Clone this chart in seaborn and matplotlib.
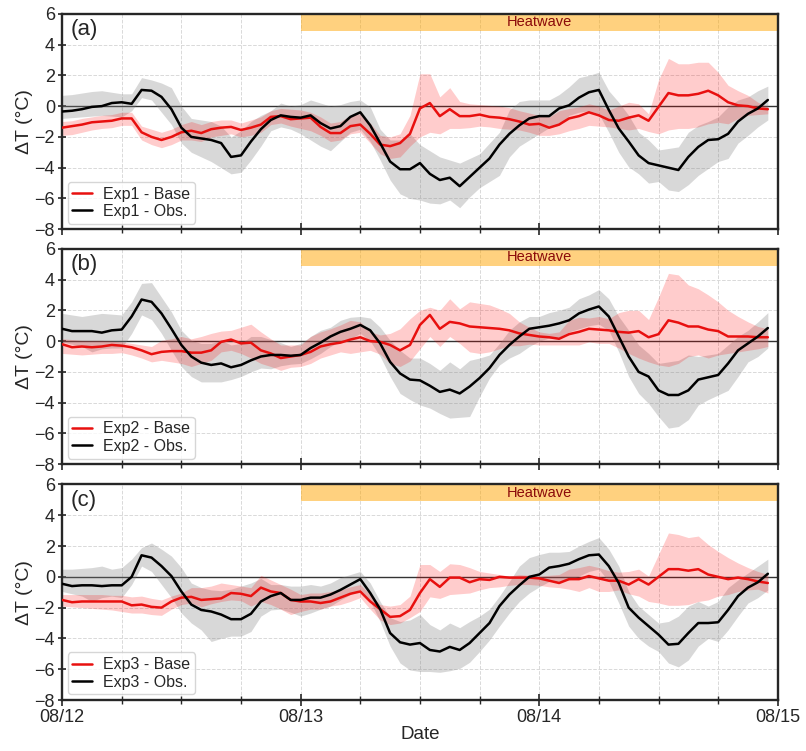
import matplotlib
matplotlib.use("Agg")
import matplotlib.pyplot as plt
import matplotlib.dates as mdates
import numpy as np
import pandas as pd
import seaborn as sns

# hourly time axis, 08/12 00:00 .. 08/14 23:00
times = pd.date_range("2023-08-12 00:00", periods=72, freq="h")
hw_start = pd.Timestamp("2023-08-13")
hw_end = pd.Timestamp("2023-08-15")

# ---- panel (a) ----
base_a = [-1.4, -1.3, -1.2, -1.05, -1.0, -0.95, -0.8, -0.8, -1.7, -2.0, -2.2, -2.0,
          -1.7, -1.6, -1.75, -1.5, -1.4, -1.35, -1.55, -1.4, -1.2, -0.7, -0.65, -0.85,
          -0.8, -0.75, -1.35, -1.75, -1.75, -1.3, -1.2, -1.8, -2.5, -2.6, -2.4, -1.8,
          -0.15, 0.2, -0.65, -0.2, -0.65, -0.65, -0.55, -0.7, -0.75, -0.85, -1.0, -1.2,
          -1.15, -1.4, -1.2, -0.8, -0.65, -0.4, -0.6, -0.9, -0.95, -0.75, -0.6, -0.95,
          -0.05, 0.85, 0.7, 0.7, 0.8, 1.0, 0.7, 0.25, 0.05, 0.0, -0.15, -0.2]
base_a_hi = [-1.0, -0.95, -0.8, -0.7, -0.6, -0.55, -0.4, -0.4, -1.3, -1.5, -1.7, -1.5,
             -1.2, -1.0, -1.2, -1.0, -0.9, -0.9, -1.1, -0.9, -0.7, -0.3, -0.15, -0.2,
             -0.25, -0.4, -0.7, -1.1, -1.0, -0.6, -0.5, -1.1, -1.9, -2.0, -1.8, -0.6,
             2.1, 2.1, 0.6, 1.2, 0.3, 0.15, 0.1, 0.05, 0.0, -0.1, -0.3, -0.45,
             -0.6, -0.7, -0.3, -0.15, -0.05, 0.15, 0.0, -0.25, 0.0, 0.25, 0.15, -0.5,
             1.7, 3.1, 2.75, 2.75, 2.85, 2.85, 2.2, 1.35, 1.0, 0.7, 0.25, -0.05]
base_a_lo = [-1.9, -1.85, -1.7, -1.55, -1.45, -1.4, -1.25, -1.25, -2.2, -2.5, -2.7, -2.5,
             -2.2, -2.2, -2.3, -2.0, -1.9, -1.8, -2.0, -1.9, -1.7, -1.2, -1.1, -1.3,
             -1.45, -1.6, -1.9, -2.3, -2.2, -1.8, -1.7, -2.4, -3.1, -3.4, -3.3, -2.6,
             -2.0, -1.7, -1.8, -1.45, -1.45, -1.4, -1.3, -1.35, -1.45, -1.5, -1.55, -1.7,
             -1.9, -1.9, -1.8, -1.6, -1.45, -1.25, -1.3, -1.35, -1.45, -1.55, -1.45, -1.65,
             -1.8, -1.55, -1.45, -1.45, -1.35, -1.15, -1.05, -1.15, -0.8, -0.6, -0.55, -0.5]
obs_a = [-0.35, -0.3, -0.2, -0.05, 0.0, 0.2, 0.25, 0.15, 1.05, 1.0, 0.6, -0.2,
         -1.4, -2.0, -2.1, -2.2, -2.4, -3.3, -3.2, -2.3, -1.5, -0.9, -0.6, -0.7,
         -0.75, -0.6, -1.1, -1.45, -1.3, -0.7, -0.4, -1.25, -2.4, -3.6, -4.1, -4.1,
         -3.7, -4.4, -4.8, -4.65, -5.2, -4.6, -4.0, -3.4, -2.5, -1.8, -1.25, -0.8,
         -0.65, -0.65, -0.15, 0.05, 0.55, 0.9, 1.05, -0.25, -1.45, -2.3, -3.2, -3.7,
         -3.85, -4.0, -4.15, -3.3, -2.65, -2.2, -2.15, -1.8, -1.0, -0.5, -0.15, 0.4]
obs_a_hi = [0.7, 0.75, 0.85, 0.95, 1.0, 0.9, 0.8, 0.8, 1.85, 1.7, 1.5, 1.2,
            0.0, -0.8, -0.9, -1.0, -1.3, -2.0, -1.6, -1.0, -0.6, -0.3, 0.2, 0.0,
            0.1, 0.4, 0.2, 0.0, 0.1, 0.3, 0.4, -0.05, -1.5, -2.2, -2.2, -1.8,
            -2.5, -2.9, -3.3, -3.5, -3.7, -3.4, -3.1, -2.4, -1.7, -0.25, 0.3, 0.4,
            0.4, 0.4, 0.75, 1.25, 1.85, 2.0, 2.2, 1.0, 0.25, -0.6, -1.7, -2.2,
            -2.85, -2.75, -2.65, -1.7, -1.25, -1.0, -0.7, -0.05, 0.4, 0.6, 1.0, 1.3]
obs_a_lo = [-0.8, -0.75, -0.7, -0.65, -0.6, -0.65, -0.7, -0.3, 0.55, 0.4, -0.4, -1.2,
            -2.4, -3.0, -3.3, -3.6, -4.0, -4.4, -4.3, -3.5, -2.6, -1.6, -1.35, -1.5,
            -1.8, -2.2, -2.6, -2.9, -2.3, -1.7, -1.5, -2.3, -3.5, -4.8, -5.7, -6.0,
            -6.1, -6.3, -6.35, -6.1, -6.6, -5.9, -5.3, -4.9, -4.5, -3.3, -2.6, -2.2,
            -1.8, -1.4, -1.25, -0.6, -0.4, -0.3, -0.5, -1.7, -3.0, -3.95, -4.4, -5.0,
            -4.9, -5.45, -5.55, -5.1, -4.5, -4.05, -3.6, -3.4, -2.4, -1.9, -1.35, -0.9]

# ---- panel (b) ----
base_b = [-0.2, -0.4, -0.35, -0.4, -0.35, -0.25, -0.3, -0.4, -0.6, -0.85, -0.7, -0.65,
          -0.65, -0.75, -0.75, -0.6, -0.05, 0.1, -0.15, -0.1, -0.6, -0.8, -1.1, -1.0,
          -0.9, -0.7, -0.35, -0.2, -0.1, 0.1, 0.25, 0.0, -0.05, -0.25, -0.6, -0.25,
          1.05, 1.7, 0.8, 1.25, 1.15, 0.95, 0.9, 0.85, 0.8, 0.7, 0.5, 0.4,
          0.3, 0.25, 0.15, 0.45, 0.6, 0.8, 0.75, 0.7, 0.6, 0.55, 0.65, 0.25,
          0.45, 1.35, 1.2, 0.95, 0.95, 0.75, 0.65, 0.3, 0.3, 0.3, 0.25, 0.25]
base_b_hi = [0.15, 0.1, 0.05, 0.05, 0.05, 0.0, -0.05, -0.15, -0.25, -0.35, 0.05, 0.15,
             0.3, 0.15, 0.3, 0.5, 0.65, 0.7, 0.9, 1.1, 0.6, 0.15, -0.25, -0.25,
             -0.25, 0.3, 0.6, 0.8, 1.05, 1.35, 1.25, 0.6, 0.4, 0.5, 0.8, 1.45,
             2.0, 2.2, 2.0, 2.75, 2.1, 2.55, 2.45, 2.35, 2.1, 1.8, 1.25, 0.9,
             0.6, 0.5, 0.6, 1.35, 1.55, 1.5, 1.6, 1.45, 1.85, 2.0, 2.0, 1.4,
             2.85, 4.4, 4.3, 3.65, 3.4, 3.0, 2.55, 2.0, 1.6, 1.25, 0.95, 0.8]
base_b_lo = [-0.8, -0.85, -0.9, -0.85, -0.8, -0.8, -0.75, -0.9, -1.1, -1.35, -1.25, -1.35,
             -1.45, -1.65, -1.45, -1.25, -0.7, -0.6, -0.8, -1.1, -1.45, -1.65, -1.9, -1.7,
             -1.65, -1.45, -1.1, -0.9, -0.7, -0.8, -0.7, -0.6, -0.85, -1.45, -1.65, -1.3,
             -0.5, 0.3, -0.35, 0.3, -0.15, -0.7, -0.8, -0.7, -0.5, -0.3, -0.3, -0.2,
             -0.25, -0.25, -0.25, -0.25, -0.25, -0.05, -0.15, -0.15, -0.45, -0.8, -1.1, -1.35,
             -1.55, -1.65, -1.45, -1.0, -0.9, -1.1, -0.9, -0.8, -0.7, -0.6, -0.5, -0.35]
obs_b = [0.8, 0.65, 0.65, 0.65, 0.55, 0.7, 0.75, 1.6, 2.7, 2.55, 1.8, 0.8,
         -0.25, -1.0, -1.4, -1.55, -1.45, -1.7, -1.55, -1.25, -1.0, -0.9, -0.9, -0.95,
         -0.9, -0.45, -0.1, 0.3, 0.6, 0.8, 1.05, 0.7, -0.15, -1.35, -2.1, -2.5,
         -2.55, -2.9, -3.3, -3.15, -3.4, -2.95, -2.4, -1.75, -0.9, -0.25, 0.3, 0.8,
         0.9, 1.0, 1.15, 1.35, 1.8, 2.05, 2.25, 1.6, 0.3, -1.0, -2.0, -2.3,
         -3.2, -3.5, -3.5, -3.2, -2.5, -2.35, -2.2, -1.45, -0.6, -0.15, 0.3, 0.85]
obs_b_hi = [1.8, 1.7, 1.6, 1.7, 1.8, 1.75, 1.7, 2.55, 3.75, 3.8, 2.85, 1.9,
            0.7, 0.05, -0.15, -0.15, 0.05, -0.25, -0.15, 0.3, 0.3, 0.1, -0.1, -0.35,
            -0.15, 0.3, 0.7, 0.9, 1.35, 1.55, 1.6, 1.5, 0.9, 0.05, -0.6, -1.1,
            -1.1, -1.45, -1.9, -1.35, -1.8, -1.25, -1.1, -0.9, -0.15, 0.7, 1.25, 1.6,
            1.6, 1.85, 2.0, 2.2, 2.75, 3.0, 3.35, 2.75, 1.6, 0.7, -0.25, -0.8,
            -1.45, -1.35, -1.25, -0.9, -1.0, -0.9, -0.8, -0.25, 0.3, 0.7, 1.25, 1.85]
obs_b_lo = [-0.05, -0.2, -0.35, -0.7, -0.5, -0.45, -0.45, 0.5, 1.7, 1.4, 0.5, -0.6,
            -1.65, -2.3, -2.65, -2.65, -2.65, -2.5, -2.3, -2.0, -1.75, -1.8, -1.6, -1.5,
            -1.45, -1.15, -0.8, -0.35, 0.0, 0.15, 0.5, 0.0, -1.0, -2.3, -3.4, -3.8,
            -4.15, -4.35, -4.7, -5.0, -4.95, -4.9, -3.6, -2.4, -1.55, -1.1, -0.8, -0.35,
            0.0, 0.2, 0.25, 0.6, 0.8, 1.0, 1.1, 0.7, -0.7, -2.3, -3.4, -4.05,
            -4.9, -5.65, -5.55, -5.1, -4.15, -3.8, -3.5, -3.2, -2.3, -1.35, -1.0, -0.45]

# ---- panel (c) ----
base_c = [-1.5, -1.65, -1.6, -1.6, -1.6, -1.6, -1.6, -1.85, -1.8, -1.95, -2.0, -1.6,
          -1.35, -1.3, -1.5, -1.45, -1.4, -1.05, -1.1, -1.25, -0.7, -0.95, -1.05, -1.5,
          -1.6, -1.6, -1.7, -1.6, -1.35, -1.1, -0.95, -1.6, -2.1, -2.6, -2.55, -2.15,
          -1.05, -0.15, -0.65, -0.05, -0.05, -0.35, -0.15, -0.2, 0.0, -0.05, -0.05, -0.05,
          -0.1, -0.25, -0.4, -0.15, -0.15, 0.05, -0.1, -0.25, -0.25, -0.5, -0.15, -0.5,
          0.0, 0.5, 0.5, 0.4, 0.5, 0.15, 0.0, -0.15, -0.05, -0.15, -0.3, -0.4]
base_c_hi = [-1.15, -1.15, -1.15, -1.15, -1.15, -1.2, -1.2, -1.3, -1.25, -1.4, -1.5, -1.25,
             -1.05, -0.7, -0.7, -0.6, -0.4, -0.5, -0.6, -0.7, 0.1, -0.2, -0.5, -0.8,
             -1.15, -1.05, -1.05, -0.95, -0.85, -0.65, -0.5, -1.15, -1.8, -1.9, -1.8, -1.25,
             0.8, 0.8, 0.35, 0.85, 0.8, 0.6, 0.35, 0.25, 0.15, 0.05, 0.15, 0.1,
             0.05, 0.1, 0.15, 0.5, 0.6, 0.75, 0.6, 0.4, 0.3, 0.35, 0.5, 0.05,
             1.45, 2.85, 2.75, 2.55, 2.65, 2.1, 1.65, 1.25, 0.9, 0.6, 0.35, 0.15]
base_c_lo = [-1.9, -1.95, -2.0, -2.05, -2.1, -2.15, -2.25, -2.35, -2.35, -2.45, -2.5, -2.1,
             -1.8, -1.7, -1.95, -1.75, -1.6, -1.5, -1.55, -1.9, -1.6, -1.8, -2.1, -2.45,
             -2.25, -2.1, -2.1, -1.9, -1.8, -1.6, -1.35, -2.1, -2.8, -3.1, -3.0, -2.65,
             -2.25, -1.3, -1.4, -1.15, -1.1, -1.05, -0.85, -0.7, -0.65, -0.55, -0.5, -0.5,
             -0.55, -0.65, -0.7, -0.8, -0.95, -0.7, -0.95, -0.95, -0.85, -1.1, -1.25, -1.6,
             -1.7, -1.85, -1.85, -1.8, -1.6, -1.5, -1.25, -1.15, -0.95, -0.85, -0.8, -1.05]
obs_c = [-0.45, -0.6, -0.55, -0.55, -0.6, -0.55, -0.55, 0.0, 1.4, 1.25, 0.7, 0.05,
         -0.95, -1.8, -2.15, -2.25, -2.45, -2.75, -2.75, -2.4, -1.6, -1.25, -1.05, -1.5,
         -1.5, -1.35, -1.35, -1.15, -0.85, -0.5, -0.15, -1.05, -2.1, -3.65, -4.25, -4.4,
         -4.3, -4.75, -4.85, -4.55, -4.75, -4.3, -3.65, -3.0, -1.9, -1.15, -0.55, 0.0,
         0.15, 0.6, 0.7, 0.85, 1.15, 1.4, 1.45, 0.7, -0.4, -2.0, -2.65, -3.2,
         -3.75, -4.4, -4.35, -3.65, -3.0, -3.0, -2.95, -2.15, -1.25, -0.7, -0.35, 0.2]
obs_c_hi = [0.5, 0.5, 0.55, 0.6, 0.7, 0.5, 0.6, 1.15, 1.9, 2.2, 1.8, 1.35,
            0.6, -0.4, -0.7, -0.85, -0.9, -0.8, -0.6, -0.4, -0.1, -0.5, -0.5, -0.6,
            -0.6, -0.5, -0.6, -0.4, -0.05, 0.15, 0.35, -0.4, -1.6, -2.65, -2.9, -2.8,
            -2.45, -3.1, -3.45, -3.0, -3.3, -2.9, -2.55, -2.1, -1.25, -0.3, 0.7, 1.25,
            1.45, 1.6, 1.6, 1.65, 2.0, 2.3, 2.55, 1.8, 0.7, -0.95, -1.9, -2.45,
            -3.0, -2.9, -2.55, -1.9, -1.6, -1.9, -1.6, -0.7, -0.2, 0.25, 0.7, 1.15]
obs_c_lo = [-0.95, -1.1, -1.25, -1.6, -1.35, -1.25, -1.35, -0.5, 0.7, 0.35, -0.5, -1.35,
            -2.35, -3.0, -3.45, -4.2, -4.0, -3.85, -3.85, -3.55, -2.55, -2.15, -2.1, -2.3,
            -2.55, -2.35, -2.1, -1.9, -1.5, -1.15, -0.8, -1.6, -2.9, -4.5, -5.6, -6.05,
            -6.15, -6.15, -6.2, -6.1, -5.95, -5.55, -4.85, -4.1, -3.2, -2.35, -1.6, -1.05,
            -0.65, -0.3, -0.3, -0.2, 0.05, 0.35, 0.5, -0.3, -1.7, -3.2, -4.0, -4.5,
            -4.85, -5.6, -5.85, -5.4, -4.5, -4.0, -4.2, -3.45, -2.55, -1.7, -1.35, -0.85]

panels = [
    ("(a)", "Exp1", base_a, base_a_lo, base_a_hi, obs_a, obs_a_lo, obs_a_hi),
    ("(b)", "Exp2", base_b, base_b_lo, base_b_hi, obs_b, obs_b_lo, obs_b_hi),
    ("(c)", "Exp3", base_c, base_c_lo, base_c_hi, obs_c, obs_c_lo, obs_c_hi),
]

sns.set_style("ticks")
plt.rcParams["font.family"] = ["Liberation Sans", "DejaVu Sans"]

fig = plt.figure(figsize=(8.06, 7.51), dpi=100)
bottoms = [0.6947, 0.3818, 0.0679]
axes = [fig.add_axes([0.077, b, 0.888, 0.287]) for b in bottoms]

for ax, (tag, exp, base, base_lo, base_hi, obs, obs_lo, obs_hi) in zip(axes, panels):
    # heatwave bar
    ax.fill_between([hw_start, hw_end], 4.9, 6, color="orange", alpha=0.5, lw=0, zorder=1)
    ax.text(pd.Timestamp("2023-08-14"), 5.45, "Heatwave", color="#8b0a0a",
            ha="center", va="center", fontsize=10.5, zorder=2)

    ax.axhline(0, color="#333333", lw=1.0, zorder=2)

    ax.fill_between(times, obs_lo, obs_hi, color="grey", alpha=0.3, lw=0, zorder=2)
    ax.fill_between(times, base_lo, base_hi, color="red", alpha=0.2, lw=0, zorder=2)
    sns.lineplot(x=times, y=base, ax=ax, color="#e8100f", lw=1.8,
                 label=f"{exp} - Base", zorder=4)
    sns.lineplot(x=times, y=obs, ax=ax, color="black", lw=1.8,
                 label=f"{exp} - Obs.", zorder=4)

    ax.set_xlim(pd.Timestamp("2023-08-12"), hw_end)
    ax.set_ylim(-8, 6)
    ax.set_yticks(np.arange(-8, 7, 2))
    ax.xaxis.set_major_locator(mdates.DayLocator())
    ax.xaxis.set_minor_locator(mdates.HourLocator(byhour=[6, 12, 18]))
    ax.xaxis.set_major_formatter(mdates.DateFormatter("%m/%d"))
    ax.grid(True, which="both", axis="x", ls="--", lw=0.7, color="#d9d9d9")
    ax.grid(True, which="major", axis="y", ls="--", lw=0.7, color="#d9d9d9")
    ax.set_axisbelow(True)

    ax.tick_params(axis="x", which="major", direction="inout", length=9, width=1.2,
                   labelsize=13, pad=2)
    ax.tick_params(axis="x", which="minor", direction="inout", length=6, width=1.0)
    ax.tick_params(axis="y", direction="inout", length=6, width=1.2, labelsize=13,
                   pad=2)
    for s in ax.spines.values():
        s.set_linewidth(1.7)
        s.set_visible(True)

    ax.set_ylabel("ΔT (°C)", fontsize=14, labelpad=1)
    ax.set_xlabel("")
    ax.text(0.012, 0.925, tag, transform=ax.transAxes, fontsize=16, va="center")
    ax.legend(loc="lower left", fontsize=11.5, frameon=True, borderaxespad=0.35,
              handlelength=1.2, handletextpad=0.7, labelspacing=0.15, borderpad=0.3)

for ax in axes[:2]:
    ax.tick_params(axis="x", which="both", labelbottom=False)
axes[2].set_xlabel("Date", fontsize=13.5, labelpad=0)

fig.savefig("out.png", dpi=100)
